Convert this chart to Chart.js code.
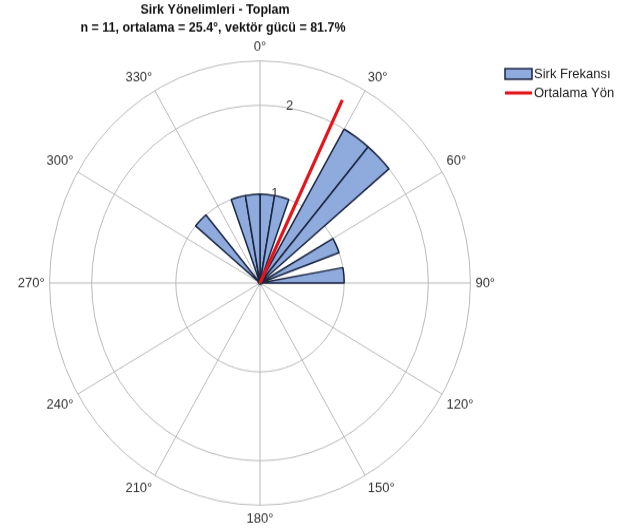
<!DOCTYPE html>
<html>
<head>
<meta charset="utf-8">
<script src="https://cdn.jsdelivr.net/npm/chart.js@4.4.1/dist/chart.umd.min.js"></script>
<style>
  html, body { margin: 0; padding: 0; background: #fff; }
</style>
</head>
<body>
<canvas id="rose" width="625" height="500" style="display:block;width:625px;height:528px;"></canvas>
<script>
// 10 derecelik siniflar, kuzeyden saat yonunde
const binLabels = ['0°','10°','20°','30°','40°','50°','60°','70°','80°','90°','100°','110°',
                   '120°','130°','140°','150°','160°','170°','180°','190°','200°','210°','220°','230°',
                   '240°','250°','260°','270°','280°','290°','300°','310°','320°','330°','340°','350°'];
const sirkSayilari = [1, 1, 0, 2, 2, 0, 1, 0, 1, 0, 0, 0,
                      0, 0, 0, 0, 0, 0, 0, 0, 0, 0, 0, 0,
                      0, 0, 0, 0, 0, 0, 0, 1, 0, 0, 1, 1];
const radialTicks = [0, 1, 2];
const rMax = 2.5;
const ortalamaAci = 25.4;
const ortalamaUzunluk = 2.28;
const baslik = ['Sirk Yönelimleri - Toplam', 'n = 11, ortalama = 25.4°, vektör gücü = 81.7%'];
const legendLabels = ['Sirk Frekansı', 'Ortalama Yön'];

const fontFamily = '"Liberation Sans", Arial, sans-serif';
const barFill = '#8faadc';
const barBorder = '#1a2540';
const meanColor = '#e3151c';
const gridColor = '#b9b9b9';

function polarPoint(scale, deg, dist) {
    const a = (deg - 90) * Math.PI / 180;
    return { x: scale.xCenter + dist * Math.cos(a), y: scale.yCenter + dist * Math.sin(a) };
}

const roseExtras = {
    id: 'roseExtras',
    beforeDatasetsDraw(chart) {
        const r = chart.scales.r;
        const ctx = chart.ctx;
        ctx.save();
        ctx.font = '13px ' + fontFamily;
        ctx.fillStyle = '#333';
        ctx.textAlign = 'center';
        ctx.textBaseline = 'middle';
        radialTicks.forEach(v => {
            const p = polarPoint(r, 10, r.getDistanceFromCenterForValue(v) + 2);
            ctx.fillText(String(v), p.x, p.y);
        });
        ctx.restore();
    },
    afterDatasetsDraw(chart) {
        const r = chart.scales.r;
        const ctx = chart.ctx;
        const end = polarPoint(r, ortalamaAci, r.getDistanceFromCenterForValue(ortalamaUzunluk));
        ctx.save();
        ctx.strokeStyle = meanColor;
        ctx.lineWidth = 3.2;
        ctx.beginPath();
        ctx.moveTo(r.xCenter, r.yCenter);
        ctx.lineTo(end.x, end.y);
        ctx.stroke();
        ctx.restore();
    },
    afterDraw(chart) {
        const ctx = chart.ctx;
        ctx.save();
        // baslik
        ctx.font = 'bold 12.5px ' + fontFamily;
        ctx.fillStyle = '#111';
        ctx.textAlign = 'center';
        ctx.textBaseline = 'middle';
        ctx.fillText(baslik[0], 215, 10);
        ctx.fillText(baslik[1], 213, 27);
        // lejant
        ctx.fillStyle = barFill;
        ctx.strokeStyle = barBorder;
        ctx.lineWidth = 1.5;
        ctx.fillRect(505, 65, 27, 10);
        ctx.strokeRect(505, 65, 27, 10);
        ctx.strokeStyle = meanColor;
        ctx.lineWidth = 3;
        ctx.beginPath();
        ctx.moveTo(505, 88);
        ctx.lineTo(532, 88);
        ctx.stroke();
        ctx.font = '13px ' + fontFamily;
        ctx.fillStyle = '#222';
        ctx.textAlign = 'left';
        ctx.fillText(legendLabels[0], 534, 70);
        ctx.fillText(legendLabels[1], 534, 88);
        ctx.restore();
    }
};

const ctx = document.getElementById('rose').getContext('2d');
const roseChart = new Chart(ctx, {
    type: 'polarArea',
    data: {
        labels: binLabels,
        datasets: [{
            label: legendLabels[0],
            data: sirkSayilari,
            backgroundColor: barFill,
            borderColor: barBorder,
            borderWidth: 1.5
        }]
    },
    options: {
        responsive: false,
        animation: false,
        layout: {
            padding: { top: 38, left: 1, right: 112, bottom: 0 }
        },
        scales: {
            r: {
                min: 0,
                max: rMax,
                startAngle: 0,
                ticks: { display: false, stepSize: 1 },
                grid: { circular: true, color: gridColor, lineWidth: 1 },
                angleLines: {
                    display: true,
                    color: gridColor,
                    lineWidth: c => (c.index % 3 === 0 ? 1 : 0)
                },
                pointLabels: {
                    display: true,
                    padding: 5,
                    color: '#333',
                    font: { size: 13, family: fontFamily },
                    callback: (label, i) => (i % 3 === 0 ? label : '')
                }
            }
        },
        plugins: {
            legend: { display: false },
            title: { display: false },
            tooltip: { enabled: false }
        }
    },
    plugins: [roseExtras]
});
</script>
</body>
</html>
